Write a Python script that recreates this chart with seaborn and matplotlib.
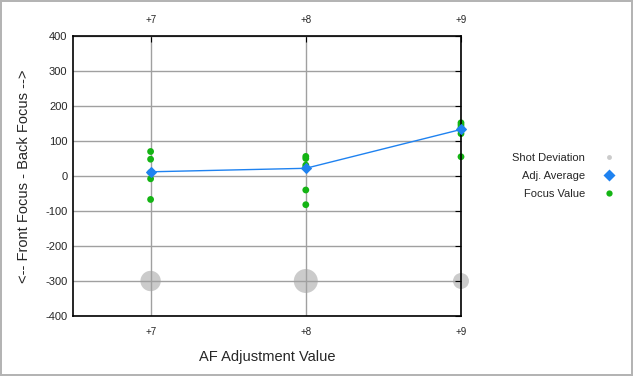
import numpy as np
import pandas as pd
import matplotlib
matplotlib.use("Agg")
import matplotlib.pyplot as plt
import seaborn as sns
from matplotlib.lines import Line2D

# --- data ---
af_steps = [7, 8, 9]
af_labels = ["+7", "+8", "+9"]
adj_average = [12, 22, 133]
shot_deviation = [20, 24, 16]
shot_dev_level = [-300, -300, -300]

focus_af = [7, 7, 7, 7, 7,
            8, 8, 8, 8, 8, 8,
            9, 9, 9, 9, 9, 9]
focus_value = [70, 48, 10, -8, -67,
               56, 50, 31, 25, -40, -82,
               152, 146, 139, 130, 121, 55]

GREEN = "#14b414"
BLUE = "#1f82f0"
GREY = "#cbcbcb"

sns.set_style("white")
plt.rcParams["font.family"] = ["Liberation Sans", "DejaVu Sans"]
plt.rcParams["axes.unicode_minus"] = False

fig = plt.figure(figsize=(6.33, 3.76), dpi=100, edgecolor="#b4b4b4", linewidth=1.5)
ax = fig.add_axes([73 / 633, 60 / 376, 388 / 633, 280 / 376])

dev_df = pd.DataFrame({"af": af_steps, "y": shot_dev_level, "dev": shot_deviation})
sns.scatterplot(data=dev_df, x="af", y="y", size="dev", sizes=(132, 298),
                size_norm=(min(shot_deviation), max(shot_deviation)),
                color=GREY, edgecolor="none", legend=False, ax=ax,
                zorder=0.3, clip_on=False)

avg_df = pd.DataFrame({"af": af_steps, "avg": adj_average})
sns.lineplot(data=avg_df, x="af", y="avg", color=BLUE, lw=1, marker="D",
             markersize=5, markeredgecolor=BLUE, ax=ax, zorder=3, clip_on=False)

foc_df = pd.DataFrame({"af": focus_af, "val": focus_value})
sns.scatterplot(data=foc_df, x="af", y="val", color=GREEN, s=24,
                edgecolor="none", ax=ax, zorder=2, clip_on=False)

ax.set_xlim(6.5, 9)
ax.set_ylim(-400, 400)
ax.set_yticks(np.arange(-400, 401, 100))
ax.set_xticks(af_steps)
ax.set_xticklabels(af_labels)
ax.grid(True, color="#a0a0a0", lw=1)
ax.set_axisbelow(True)
for s in ax.spines.values():
    s.set_color("black")
    s.set_linewidth(1.2)

ax.tick_params(axis="x", direction="in", top=True, labeltop=True, length=4,
               labelsize=7, pad=8, color="black")
ax.tick_params(axis="y", direction="in", right=True, length=4,
               labelsize=8, pad=4, color="black")

ax.set_xlabel("AF Adjustment Value", fontsize=10.5, labelpad=9)
ax.set_ylabel("<-- Front Focus - Back Focus -->", fontsize=10.5, labelpad=10)

handles = [
    Line2D([], [], ls="none", marker="o", markersize=3.5, color=GREY, mec="none"),
    Line2D([], [], ls="none", marker="D", markersize=6, color=BLUE, mec="none"),
    Line2D([], [], ls="none", marker="o", markersize=4.5, color=GREEN, mec="none"),
]
fig.legend(handles, ["Shot Deviation", "Adj. Average", "Focus Value"],
           loc="center right", bbox_to_anchor=(0.996, 0.532), frameon=False,
           markerfirst=False, fontsize=8, labelspacing=0.7, handletextpad=1.2)

fig.savefig("out.png", dpi=100, edgecolor=fig.get_edgecolor())
